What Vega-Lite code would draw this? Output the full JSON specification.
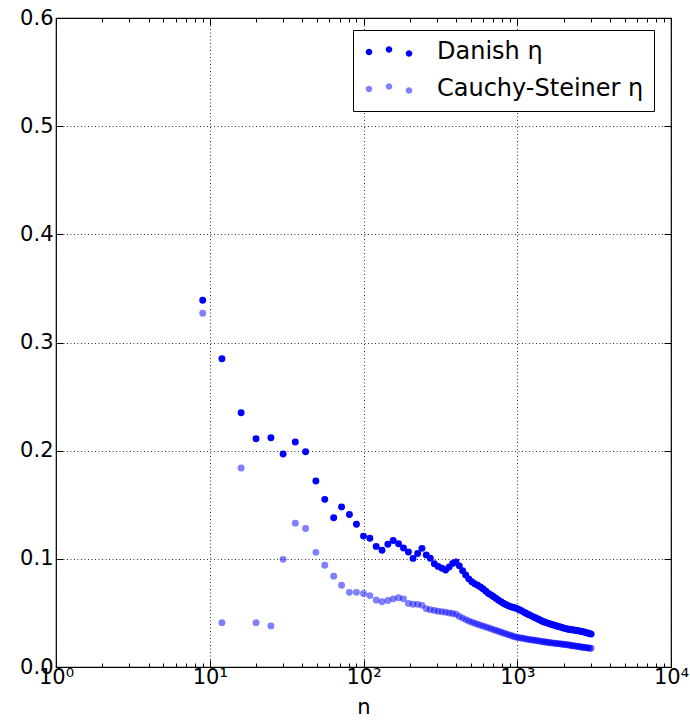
{
  "$schema": "https://vega.github.io/schema/vega-lite/v6.json",
  "width": 615,
  "height": 649,
  "autosize": {"type": "none"},
  "padding": {"left": 56, "top": 18, "right": 19, "bottom": 53},
  "config": {
    "font": "DejaVu Sans",
    "view": {"stroke": "#000", "strokeWidth": 1.2},
    "axis": {"domain": false, "labelColor": "#000", "tickColor": "#000", "titleColor": "#000", "labelFont": "DejaVu Sans", "titleFont": "DejaVu Sans"}
  },
  "data": {
    "values": [
      {"n": 9, "Danish": 0.339, "Cauchy-Steiner": 0.327},
      {"n": 12, "Danish": 0.285, "Cauchy-Steiner": 0.041},
      {"n": 16, "Danish": 0.235, "Cauchy-Steiner": 0.184},
      {"n": 20, "Danish": 0.211, "Cauchy-Steiner": 0.041},
      {"n": 25, "Danish": 0.212, "Cauchy-Steiner": 0.038},
      {"n": 30, "Danish": 0.197, "Cauchy-Steiner": 0.0995},
      {"n": 36, "Danish": 0.208, "Cauchy-Steiner": 0.133},
      {"n": 42, "Danish": 0.199, "Cauchy-Steiner": 0.128},
      {"n": 49, "Danish": 0.172, "Cauchy-Steiner": 0.106},
      {"n": 56, "Danish": 0.155, "Cauchy-Steiner": 0.094},
      {"n": 64, "Danish": 0.138, "Cauchy-Steiner": 0.084},
      {"n": 72, "Danish": 0.148, "Cauchy-Steiner": 0.0755},
      {"n": 81, "Danish": 0.141, "Cauchy-Steiner": 0.069},
      {"n": 90, "Danish": 0.132, "Cauchy-Steiner": 0.069},
      {"n": 100, "Danish": 0.121, "Cauchy-Steiner": 0.068},
      {"n": 110, "Danish": 0.119, "Cauchy-Steiner": 0.066},
      {"n": 121, "Danish": 0.1115, "Cauchy-Steiner": 0.062},
      {"n": 132, "Danish": 0.108, "Cauchy-Steiner": 0.0604},
      {"n": 144, "Danish": 0.1135, "Cauchy-Steiner": 0.0614},
      {"n": 156, "Danish": 0.117, "Cauchy-Steiner": 0.063},
      {"n": 169, "Danish": 0.114, "Cauchy-Steiner": 0.064},
      {"n": 182, "Danish": 0.11, "Cauchy-Steiner": 0.063},
      {"n": 196, "Danish": 0.1064, "Cauchy-Steiner": 0.0588},
      {"n": 210, "Danish": 0.1004, "Cauchy-Steiner": 0.058},
      {"n": 225, "Danish": 0.105, "Cauchy-Steiner": 0.0579},
      {"n": 240, "Danish": 0.1097, "Cauchy-Steiner": 0.057},
      {"n": 256, "Danish": 0.1035, "Cauchy-Steiner": 0.0538},
      {"n": 272, "Danish": 0.1005, "Cauchy-Steiner": 0.0529},
      {"n": 289, "Danish": 0.0955, "Cauchy-Steiner": 0.0522},
      {"n": 306, "Danish": 0.093, "Cauchy-Steiner": 0.0516},
      {"n": 324, "Danish": 0.0913, "Cauchy-Steiner": 0.0511},
      {"n": 342, "Danish": 0.0896, "Cauchy-Steiner": 0.0506},
      {"n": 361, "Danish": 0.0925, "Cauchy-Steiner": 0.05},
      {"n": 380, "Danish": 0.0958, "Cauchy-Steiner": 0.0494},
      {"n": 400, "Danish": 0.097, "Cauchy-Steiner": 0.0488},
      {"n": 420, "Danish": 0.0935, "Cauchy-Steiner": 0.0468},
      {"n": 441, "Danish": 0.089, "Cauchy-Steiner": 0.0452},
      {"n": 462, "Danish": 0.085, "Cauchy-Steiner": 0.0438},
      {"n": 484, "Danish": 0.0815, "Cauchy-Steiner": 0.0425},
      {"n": 506, "Danish": 0.0788, "Cauchy-Steiner": 0.0414},
      {"n": 529, "Danish": 0.077, "Cauchy-Steiner": 0.0404},
      {"n": 552, "Danish": 0.0755, "Cauchy-Steiner": 0.0395},
      {"n": 576, "Danish": 0.074, "Cauchy-Steiner": 0.0386},
      {"n": 600, "Danish": 0.0722, "Cauchy-Steiner": 0.0378},
      {"n": 625, "Danish": 0.07, "Cauchy-Steiner": 0.037},
      {"n": 650, "Danish": 0.068, "Cauchy-Steiner": 0.0362},
      {"n": 676, "Danish": 0.0665, "Cauchy-Steiner": 0.0353},
      {"n": 702, "Danish": 0.065, "Cauchy-Steiner": 0.0345},
      {"n": 729, "Danish": 0.0633, "Cauchy-Steiner": 0.0337},
      {"n": 756, "Danish": 0.0618, "Cauchy-Steiner": 0.033},
      {"n": 784, "Danish": 0.0603, "Cauchy-Steiner": 0.0322},
      {"n": 812, "Danish": 0.0589, "Cauchy-Steiner": 0.0315},
      {"n": 841, "Danish": 0.0578, "Cauchy-Steiner": 0.0308},
      {"n": 870, "Danish": 0.0568, "Cauchy-Steiner": 0.0301},
      {"n": 900, "Danish": 0.056, "Cauchy-Steiner": 0.0294},
      {"n": 930, "Danish": 0.0553, "Cauchy-Steiner": 0.0287},
      {"n": 961, "Danish": 0.0547, "Cauchy-Steiner": 0.028},
      {"n": 992, "Danish": 0.0541, "Cauchy-Steiner": 0.0275},
      {"n": 1024, "Danish": 0.0532, "Cauchy-Steiner": 0.0271},
      {"n": 1056, "Danish": 0.0522, "Cauchy-Steiner": 0.0268},
      {"n": 1089, "Danish": 0.0512, "Cauchy-Steiner": 0.0265},
      {"n": 1122, "Danish": 0.0502, "Cauchy-Steiner": 0.0261},
      {"n": 1156, "Danish": 0.0493, "Cauchy-Steiner": 0.0258},
      {"n": 1190, "Danish": 0.0484, "Cauchy-Steiner": 0.0255},
      {"n": 1225, "Danish": 0.0475, "Cauchy-Steiner": 0.0252},
      {"n": 1260, "Danish": 0.0466, "Cauchy-Steiner": 0.025},
      {"n": 1296, "Danish": 0.0458, "Cauchy-Steiner": 0.0247},
      {"n": 1332, "Danish": 0.045, "Cauchy-Steiner": 0.0244},
      {"n": 1369, "Danish": 0.0442, "Cauchy-Steiner": 0.0242},
      {"n": 1406, "Danish": 0.0434, "Cauchy-Steiner": 0.0239},
      {"n": 1444, "Danish": 0.0426, "Cauchy-Steiner": 0.0236},
      {"n": 1482, "Danish": 0.0419, "Cauchy-Steiner": 0.0234},
      {"n": 1521, "Danish": 0.0413, "Cauchy-Steiner": 0.0231},
      {"n": 1560, "Danish": 0.0408, "Cauchy-Steiner": 0.0229},
      {"n": 1600, "Danish": 0.0403, "Cauchy-Steiner": 0.0227},
      {"n": 1640, "Danish": 0.0398, "Cauchy-Steiner": 0.0225},
      {"n": 1681, "Danish": 0.0393, "Cauchy-Steiner": 0.0223},
      {"n": 1722, "Danish": 0.0389, "Cauchy-Steiner": 0.0221},
      {"n": 1764, "Danish": 0.0384, "Cauchy-Steiner": 0.022},
      {"n": 1806, "Danish": 0.0379, "Cauchy-Steiner": 0.0218},
      {"n": 1849, "Danish": 0.0375, "Cauchy-Steiner": 0.0216},
      {"n": 1892, "Danish": 0.0371, "Cauchy-Steiner": 0.0214},
      {"n": 1936, "Danish": 0.0367, "Cauchy-Steiner": 0.0213},
      {"n": 1980, "Danish": 0.0362, "Cauchy-Steiner": 0.0211},
      {"n": 2025, "Danish": 0.0358, "Cauchy-Steiner": 0.0209},
      {"n": 2070, "Danish": 0.0355, "Cauchy-Steiner": 0.0207},
      {"n": 2116, "Danish": 0.0352, "Cauchy-Steiner": 0.0205},
      {"n": 2162, "Danish": 0.035, "Cauchy-Steiner": 0.0203},
      {"n": 2209, "Danish": 0.0347, "Cauchy-Steiner": 0.0201},
      {"n": 2256, "Danish": 0.0345, "Cauchy-Steiner": 0.0199},
      {"n": 2304, "Danish": 0.0343, "Cauchy-Steiner": 0.0197},
      {"n": 2352, "Danish": 0.0341, "Cauchy-Steiner": 0.0195},
      {"n": 2401, "Danish": 0.0339, "Cauchy-Steiner": 0.0193},
      {"n": 2450, "Danish": 0.0336, "Cauchy-Steiner": 0.0191},
      {"n": 2500, "Danish": 0.0334, "Cauchy-Steiner": 0.0189},
      {"n": 2550, "Danish": 0.0332, "Cauchy-Steiner": 0.0187},
      {"n": 2601, "Danish": 0.0329, "Cauchy-Steiner": 0.0185},
      {"n": 2652, "Danish": 0.0327, "Cauchy-Steiner": 0.0183},
      {"n": 2704, "Danish": 0.0325, "Cauchy-Steiner": 0.0182},
      {"n": 2756, "Danish": 0.0322, "Cauchy-Steiner": 0.018},
      {"n": 2809, "Danish": 0.0318, "Cauchy-Steiner": 0.0178},
      {"n": 2862, "Danish": 0.0314, "Cauchy-Steiner": 0.0177},
      {"n": 2916, "Danish": 0.0311, "Cauchy-Steiner": 0.0175},
      {"n": 2970, "Danish": 0.0307, "Cauchy-Steiner": 0.0174},
      {"n": 3025, "Danish": 0.0304, "Cauchy-Steiner": 0.0173}
    ]
  },
  "transform": [{"fold": ["Danish", "Cauchy-Steiner"], "as": ["series", "eta"]}],
  "layer": [
    {
      "mark": {"type": "circle", "size": 48},
      "encoding": {
        "x": {
          "field": "n", "type": "quantitative",
          "scale": {"type": "log", "domain": [1, 10000], "nice": false},
          "axis": {
            "orient": "bottom", "values": [1, 10, 100, 1000, 10000],
            "labelExpr": "'10' + ['⁰','¹','²','³','⁴'][round(log(datum.value)/LN10)]",
            "labelFontSize": 21, "labelPadding": 6, "labelFlush": false,
            "tickSize": -7, "tickWidth": 1,
            "grid": true, "gridColor": "#000", "gridDash": [1, 2.5], "gridOpacity": 0.8, "gridWidth": 1,
            "title": "n", "titleFontSize": 21, "titleFontWeight": "normal", "titlePadding": 9
          }
        },
        "y": {
          "field": "eta", "type": "quantitative",
          "scale": {"domain": [0, 0.6], "nice": false, "zero": false},
          "axis": {
            "orient": "left", "values": [0, 0.1, 0.2, 0.3, 0.4, 0.5, 0.6], "format": ".1f",
            "labelFontSize": 21, "labelPadding": 10, "labelFlush": false,
            "tickSize": -7, "tickWidth": 1,
            "grid": true, "gridColor": "#000", "gridDash": [1, 2.5], "gridOpacity": 0.8, "gridWidth": 1,
            "title": null
          }
        },
        "color": {
          "field": "series", "type": "nominal",
          "scale": {"domain": ["Danish", "Cauchy-Steiner"], "range": ["#0000ff", "#0000ff"]},
          "legend": {
            "title": null, "orient": "none", "legendX": 297, "legendY": 12,
            "symbolType": "M-2.33,0a0.33,0.33 0 1,0 0.66,0a0.33,0.33 0 1,0 -0.66,0Z M-0.33,-0.25a0.33,0.33 0 1,0 0.66,0a0.33,0.33 0 1,0 -0.66,0Z M1.67,0.15a0.33,0.33 0 1,0 0.66,0a0.33,0.33 0 1,0 -0.66,0Z",
            "symbolSize": 400, "symbolStrokeWidth": 0, "symbolOffset": 14,
            "labelFontSize": 24, "labelColor": "#000", "labelFont": "DejaVu Sans", "labelLimit": 400,
            "labelExpr": "datum.label + ' η'", "labelOffset": 36,
            "padding": 10, "rowPadding": 13,
            "strokeColor": "#000", "fillColor": "#fff", "cornerRadius": 0,
            "encode": {"symbols": {"update": {"opacity": {"signal": "datum.value == 'Danish' ? 1 : 0.5"}}}}
          }
        },
        "opacity": {
          "field": "series", "type": "nominal",
          "scale": {"domain": ["Danish", "Cauchy-Steiner"], "range": [1, 0.5]},
          "legend": null
        }
      }
    },
    {
      "mark": {"type": "circle", "opacity": 0},
      "encoding": {
        "x": {
          "field": "n", "type": "quantitative",
          "scale": {"type": "log", "domain": [1, 10000], "nice": false},
          "axis": {
            "orient": "bottom",
            "values": [2, 3, 4, 5, 6, 7, 8, 9, 20, 30, 40, 50, 60, 70, 80, 90, 200, 300, 400, 500, 600, 700, 800, 900, 2000, 3000, 4000, 5000, 6000, 7000, 8000, 9000],
            "labels": false, "grid": false, "tickSize": -4, "tickWidth": 1, "title": null
          }
        },
        "y": {
          "field": "eta", "type": "quantitative",
          "scale": {"domain": [0, 0.6], "nice": false, "zero": false},
          "axis": {
            "orient": "right", "values": [0, 0.1, 0.2, 0.3, 0.4, 0.5, 0.6],
            "labels": false, "grid": false, "tickSize": -7, "tickWidth": 1, "title": null
          }
        }
      }
    },
    {
      "mark": {"type": "circle", "opacity": 0},
      "encoding": {
        "x": {
          "field": "n", "type": "quantitative",
          "scale": {"type": "log", "domain": [1, 10000], "nice": false},
          "axis": {
            "orient": "top", "values": [1, 10, 100, 1000, 10000],
            "labels": false, "grid": false, "tickSize": -7, "tickWidth": 1, "title": null
          }
        },
        "y": {"field": "eta", "type": "quantitative", "scale": {"domain": [0, 0.6], "nice": false, "zero": false}, "axis": null}
      }
    },
    {
      "mark": {"type": "circle", "opacity": 0},
      "encoding": {
        "x": {
          "field": "n", "type": "quantitative",
          "scale": {"type": "log", "domain": [1, 10000], "nice": false},
          "axis": {
            "orient": "top",
            "values": [2, 3, 4, 5, 6, 7, 8, 9, 20, 30, 40, 50, 60, 70, 80, 90, 200, 300, 400, 500, 600, 700, 800, 900, 2000, 3000, 4000, 5000, 6000, 7000, 8000, 9000],
            "labels": false, "grid": false, "tickSize": -4, "tickWidth": 1, "title": null
          }
        },
        "y": {"field": "eta", "type": "quantitative", "scale": {"domain": [0, 0.6], "nice": false, "zero": false}, "axis": null}
      }
    }
  ],
  "resolve": {"axis": {"x": "independent", "y": "independent"}}
}
